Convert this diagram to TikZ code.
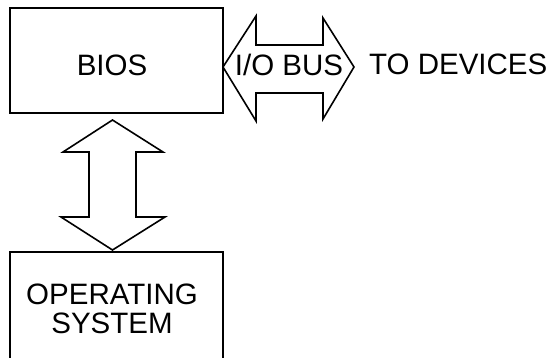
\documentclass[tikz,border=0pt]{standalone}
\usepackage{fontspec}
\setmainfont{Liberation Sans}
\begin{document}
\begin{tikzpicture}[x=1pt,y=-1pt,
  boxline/.style={line width=2pt},
  busarrow/.style={line width=1.6pt, line join=miter},
  lbl/.style={font=\fontsize{29.5}{30}\selectfont, inner sep=0pt, align=center}]
\useasboundingbox (0,0) rectangle (550,357);
\clip (0,0) rectangle (550,357);

% BIOS box
\draw[boxline] (10,8) rectangle (223,113);
\node[lbl, anchor=base] (bios) at (112,75) {BIOS};

% Operating system box (runs off the bottom edge)
\draw[boxline] (10,370) -- (10,252) -- (223,252) -- (223,370);
\node[lbl, anchor=base] (os) at (112,333) {OPERATING\\[-1pt]SYSTEM};

% Vertical double arrow between BIOS and the operating system
\draw[busarrow] (112.5,120) -- (163,152) -- (136,152) -- (136,217) -- (165,217)
  -- (112.5,250) -- (61,217) -- (89,217) -- (89,152) -- (63,152) -- cycle;

% Horizontal I/O bus arrow
\draw[busarrow] (223,67) -- (256,16) -- (256,45) -- (323,45) -- (323,18)
  -- (354,67) -- (323,119) -- (323,93) -- (256,93) -- (256,121) -- cycle;
\node[lbl, anchor=base] (bus) at (289,75) {I/O BUS};

\node[lbl, anchor=base west] (dev) at (369,74) {TO DEVICES};
\end{tikzpicture}
\end{document}
